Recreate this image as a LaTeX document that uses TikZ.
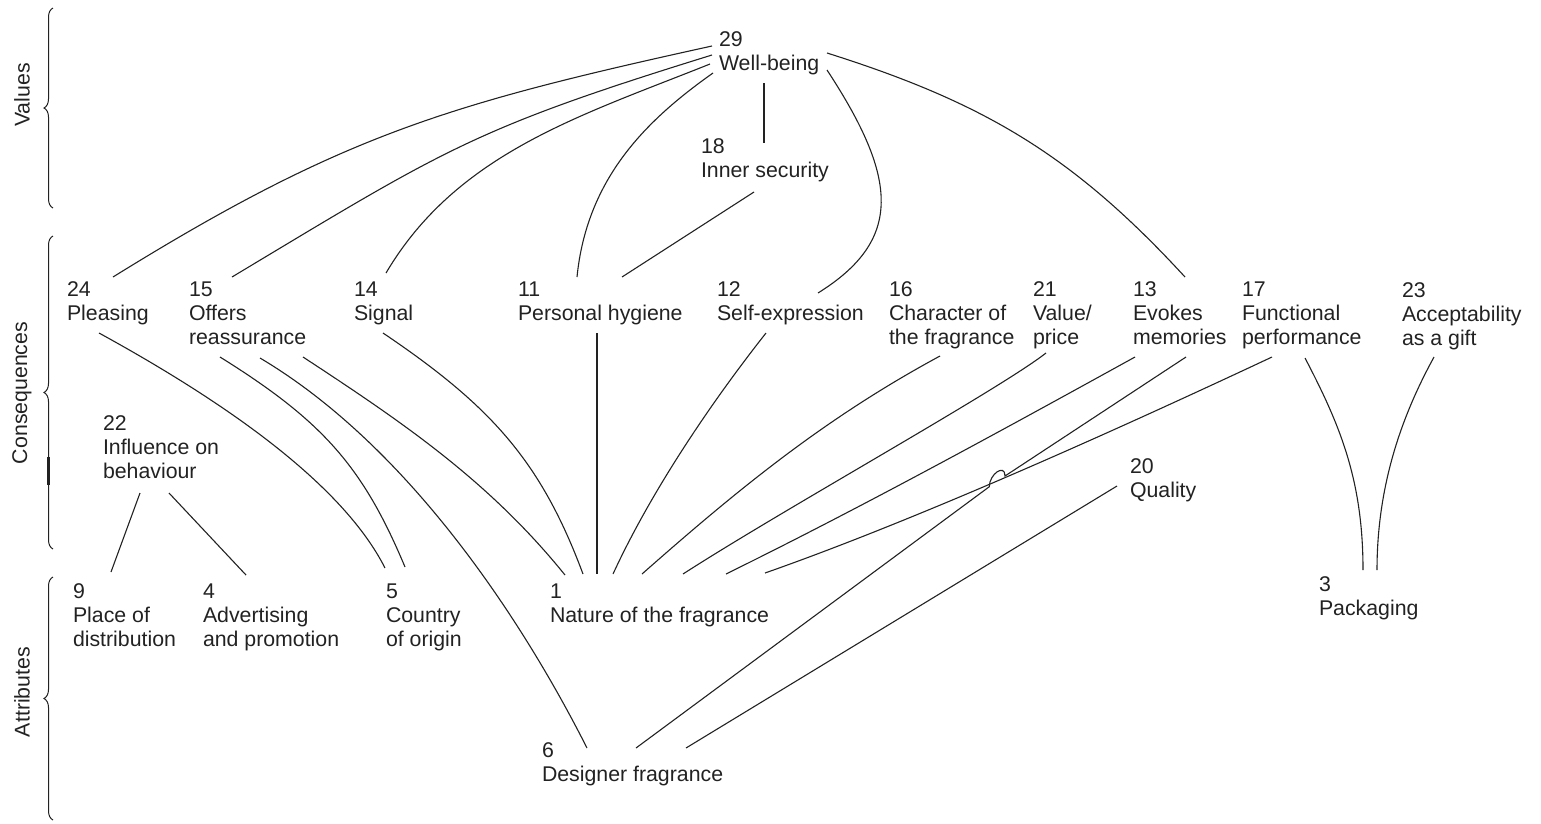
\documentclass[tikz,border=0pt]{standalone}
\usepackage{fontspec}
\setmainfont{Liberation Sans}
\usetikzlibrary{decorations.pathreplacing}
\definecolor{ink}{HTML}{222222}
\begin{document}
\begin{tikzpicture}[x=1pt,y=-1pt,
  lbl/.style={anchor=north west,inner sep=0pt,outer sep=0pt,align=left,
    text=ink,font=\fontsize{21.3}{24}\selectfont},
  side/.style={rotate=90,inner sep=0pt,text=ink,font=\fontsize{21.3}{24}\selectfont},
  link/.style={draw=ink,line width=1.1pt},
  grp/.style={draw=ink,line width=1pt,decorate,decoration={brace,amplitude=9pt}}]
\useasboundingbox (0,0) rectangle (1541,823);

% level labels and braces
\node[side] (lvalues) at (22,95) {Values};
\node[side] (lcons) at (22,393) {Consequences};
\node[side] (lattr) at (22,692) {Attributes};
\draw[grp] (53,208) -- (53,8);
\draw[grp] (53,549) -- (53,236);
\draw[grp] (53,820) -- (53,577);
\draw[draw=ink,line width=2.4pt] (48.5,457) -- (48.5,485);

% values
\node[lbl] (n29) at (719,32) {29\\Well-being};
\node[lbl] (n18) at (701,139) {18\\Inner security};
% consequences
\node[lbl] (n24) at (67,282) {24\\Pleasing};
\node[lbl] (n15) at (189,282) {15\\Offers\\reassurance};
\node[lbl] (n14) at (354,282) {14\\Signal};
\node[lbl] (n11) at (518,282) {11\\Personal hygiene};
\node[lbl] (n12) at (717,282) {12\\Self-expression};
\node[lbl] (n16) at (889,282) {16\\Character of\\the fragrance};
\node[lbl] (n21) at (1033,282) {21\\Value/\\price};
\node[lbl] (n13) at (1133,282) {13\\Evokes\\memories};
\node[lbl] (n17) at (1242,282) {17\\Functional\\performance};
\node[lbl] (n23) at (1402,283) {23\\Acceptability\\as a gift};
\node[lbl] (n22) at (103,416) {22\\Influence on\\behaviour};
\node[lbl] (n20) at (1130,459) {20\\Quality};
% attributes
\node[lbl] (n9) at (73,584) {9\\Place of\\distribution};
\node[lbl] (n4) at (203,584) {4\\Advertising\\and promotion};
\node[lbl] (n5) at (386,584) {5\\Country\\of origin};
\node[lbl] (n1) at (550,584) {1\\Nature of the fragrance};
\node[lbl] (n3) at (1319,577) {3\\Packaging};
\node[lbl] (n6) at (542,743) {6\\Designer fragrance};

% links from well-being
\draw[link] ([shift={(-7,14)}]n29.north west) .. controls (448,104) and (342,135) .. ([shift={(46,-5)}]n24.north west);
\draw[link] ([shift={(-7,23)}]n29.north west) .. controls (473,129) and (446,148.5) .. ([shift={(43,-5)}]n15.north west);
\draw[link] ([shift={(-9,32)}]n29.north west) .. controls (580,116) and (457,153) .. ([shift={(32,-9)}]n14.north west);
\draw[link] ([shift={(-6,41)}]n29.north west) .. controls (648,119) and (587,177) .. ([shift={(59,-5)}]n11.north west);
\draw[link] ([shift={(45,51)}]n29.north west) -- ([shift={(63,4)}]n18.north west);
\draw[link] ([shift={(108,38)}]n29.north west) .. controls (898.5,179) and (903,240) .. ([shift={(101,11)}]n12.north west);
\draw[link] ([shift={(108,21)}]n29.north west) .. controls (983.75,102.5) and (1072.8,154.9) .. ([shift={(52,-5)}]n13.north west);
\draw[link] ([shift={(53,53)}]n18.north west) -- ([shift={(104,-5)}]n11.north west);

% links between consequences and attributes
\draw[link] ([shift={(32,51)}]n24.north west) .. controls (212.75,395.4) and (340,479) .. ([shift={(-1,-16)}]n5.north west);
\draw[link] ([shift={(31,75)}]n15.north west) .. controls (322,420.6) and (362.65,465.8) .. ([shift={(19,-17)}]n5.north west);
\draw[link] ([shift={(71,76)}]n15.north west) .. controls (406,444.7) and (519.5,614.5) .. ([shift={(45,5)}]n6.north west);
\draw[link] ([shift={(114,75)}]n15.north west) .. controls (403.8,423) and (489.4,481.4) .. ([shift={(15,-9)}]n1.north west);
\draw[link] ([shift={(29,51)}]n14.north west) .. controls (491,405.8) and (541,461.2) .. ([shift={(33,-10)}]n1.north west);
\draw[link] ([shift={(79,51)}]n11.north west) -- ([shift={(47,-10)}]n1.north west);
\draw[link] ([shift={(49,51)}]n12.north west) .. controls (710.2,403.7) and (650.8,492) .. ([shift={(63,-10)}]n1.north west);
\draw[link] ([shift={(51,74)}]n16.north west) .. controls (825.6,417.75) and (739.2,488.2) .. ([shift={(92,-10)}]n1.north west);
\draw[link] ([shift={(13,71)}]n21.north west) .. controls (998.6,390) and (783.8,509) .. ([shift={(133,-10)}]n1.north west);
\draw[link] ([shift={(2,75)}]n13.north west) .. controls (999,432) and (862,507) .. ([shift={(176,-10)}]n1.north west);
\draw[link] ([shift={(30,75)}]n17.north west) .. controls (1057.3,457.7) and (888.3,529.7) .. ([shift={(215,-11)}]n1.north west);
% the evokes-memories link hops over the functional-performance link
\coordinate (hopR) at (1005,476);
\coordinate (hopL) at (989.3,486.7);
\draw[link] ([shift={(53,75)}]n13.north west) -- (hopR) .. controls (1005,463.3) and (989.3,474) .. (hopL) -- ([shift={(94,5)}]n6.north west);
\draw[link] ([shift={(-13,27)}]n20.north west) -- ([shift={(144,5)}]n6.north west);
\draw[link] ([shift={(63,76)}]n17.north west) .. controls (1340,425) and (1363,480) .. ([shift={(44,-7)}]n3.north west);
\draw[link] ([shift={(32,74)}]n23.north west) .. controls (1405,410) and (1377,480) .. ([shift={(58,-7)}]n3.north west);
\draw[link] ([shift={(37,77)}]n22.north west) -- ([shift={(38,-12)}]n9.north west);
\draw[link] ([shift={(66,77)}]n22.north west) -- ([shift={(43,-9)}]n4.north west);
\end{tikzpicture}
\end{document}
